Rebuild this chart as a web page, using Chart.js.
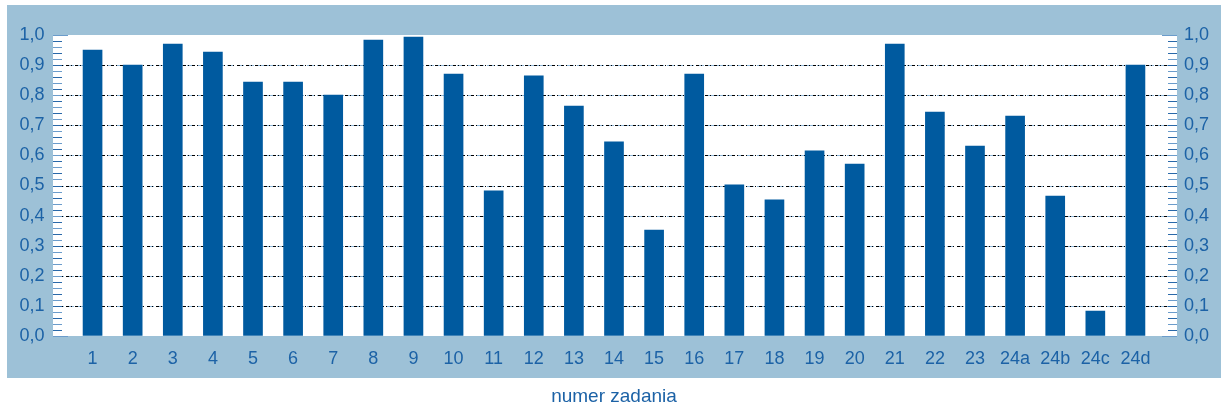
<!DOCTYPE html>
<html>
<head>
<meta charset="utf-8">
<script src="https://cdn.jsdelivr.net/npm/chart.js@4/dist/chart.umd.min.js"></script>
<style>
  body { margin: 0; background: #fff; }
</style>
</head>
<body>
<canvas id="chart" width="1221" height="410"></canvas>
<script>
const tasks = ['1', '2', '3', '4', '5', '6', '7', '8', '9', '10', '11', '12', '13', '14', '15',
    '16', '17', '18', '19', '20', '21', '22', '23', '24a', '24b', '24c', '24d']
const easiness = [0.95, 0.90, 0.97, 0.943, 0.844, 0.844, 0.80, 0.983, 0.993, 0.87, 0.482, 0.864, 0.764,
    0.645, 0.352, 0.87, 0.502, 0.452, 0.615, 0.571, 0.97, 0.744, 0.631, 0.731, 0.465, 0.083, 0.90]
const yMin = 0
const yMax = 1
const yStep = 0.1
const xTitle = 'numer zadania'

const colors = {
    panel: '#9dc1d7',
    bar: '#005a9f',
    text: '#1c62a6',
    tick: '#2a69a9',
    tickLight: '#6b9ccb',
    gridBlue: '#8fb7d8',
    gridDark: '#000000',
}
const font = '"Liberation Sans", Arial, sans-serif'

// panel, white plot box, dotted grid and inward tick marks
const frame = {
    id: 'frame',
    beforeDraw: (chart) => {
        const ctx = chart.ctx
        const a = chart.chartArea
        ctx.save()
        ctx.fillStyle = '#fff'
        ctx.fillRect(0, 0, chart.width, chart.height)
        ctx.fillStyle = colors.panel
        ctx.fillRect(7, a.top - 30, chart.width - 7, a.bottom - a.top + 72)
        ctx.fillStyle = '#fff'
        ctx.fillRect(a.left - 19.5, a.top, a.right - a.left + 41, a.bottom - a.top)
        ctx.restore()
    },
    beforeDatasetsDraw: (chart) => {
        const ctx = chart.ctx
        const a = chart.chartArea
        const y = chart.scales.y
        const boxL = a.left - 19.5
        const boxR = a.right + 21.5
        ctx.save()
        ctx.lineWidth = 1
        // grid lines
        for (let i = 1; i < 10; i++) {
            const py = Math.round(y.getPixelForValue(yMin + i * yStep)) + 0.5
            ctx.strokeStyle = colors.gridBlue
            ctx.setLineDash([7, 3])
            ctx.beginPath(); ctx.moveTo(boxL + 4, py); ctx.lineTo(boxR - 4, py); ctx.stroke()
            ctx.strokeStyle = colors.gridDark
            ctx.setLineDash([3, 2, 1, 3])
            ctx.beginPath(); ctx.moveTo(boxL + 4, py); ctx.lineTo(boxR - 4, py); ctx.stroke()
        }
        ctx.setLineDash([])
        // minor ticks every 0.02
        for (let i = 0; i <= 50; i++) {
            const py = Math.round(y.getPixelForValue(yMin + i * (yMax - yMin) / 50)) + 0.5
            const edge = (i === 0 || i === 50)
            const len = edge ? 15 : 9
            ctx.strokeStyle = edge ? colors.tickLight : (i % 2 ? colors.tick : colors.tickLight)
            ctx.beginPath(); ctx.moveTo(boxL, py); ctx.lineTo(boxL + len, py); ctx.stroke()
            ctx.beginPath(); ctx.moveTo(boxR - len, py); ctx.lineTo(boxR, py); ctx.stroke()
        }
        ctx.restore()
    }
}

const fmt = (value) => Number(value).toFixed(1).replace('.', ',')

// invisible tick marks keep the labels away from the plot box
const hiddenGrid = (len) => ({
    display: true,
    drawOnChartArea: false,
    drawTicks: true,
    tickLength: len,
    color: 'rgba(0,0,0,0)',
})

const config = {
    type: 'bar',
    data: {
        labels: tasks,
        datasets: [{
            data: easiness,
            backgroundColor: colors.bar,
            barThickness: 19,
            yAxisID: 'y',
        }]
    },
    plugins: [frame],
    options: {
        responsive: false,
        animation: false,
        layout: { padding: { top: 35, left: 0, right: 0, bottom: 0 } },
        plugins: {
            legend: { display: false },
            tooltip: { enabled: false },
        },
        scales: {
            x: {
                grid: { display: false, drawTicks: false },
                border: { display: false },
                ticks: {
                    color: colors.text,
                    font: { family: font, size: 18 },
                    padding: 12,
                    maxRotation: 0,
                    autoSkip: false,
                },
                title: {
                    display: true,
                    text: xTitle,
                    color: colors.text,
                    font: { family: font, size: 19 },
                    padding: { top: 0, bottom: 2 },
                },
                afterFit: (scale) => { scale.height = 74 },
            },
            y: {
                position: 'left',
                min: yMin,
                max: yMax,
                grid: hiddenGrid(28),
                border: { display: false },
                ticks: {
                    stepSize: yStep,
                    color: colors.text,
                    font: { family: font, size: 18 },
                    padding: 0,
                    callback: fmt,
                },
                afterFit: (scale) => { scale.width = 72.5 },
            },
            y2: {
                position: 'right',
                min: yMin,
                max: yMax,
                grid: hiddenGrid(28.5),
                border: { display: false },
                ticks: {
                    stepSize: yStep,
                    color: colors.text,
                    font: { family: font, size: 18 },
                    padding: 0,
                    callback: fmt,
                },
                afterFit: (scale) => { scale.width = 65.5 },
            },
        }
    }
}

new Chart(document.getElementById('chart'), config)
</script>
</body>
</html>
